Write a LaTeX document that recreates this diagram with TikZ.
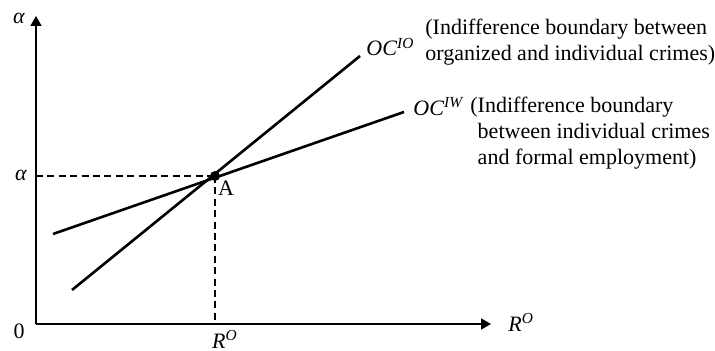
\documentclass[tikz,border=0pt]{standalone}
\usepackage{fontspec}
\setmainfont{Liberation Serif}
\usetikzlibrary{arrows.meta}
\newcommand{\sym}[2]{\textit{#1}\textsuperscript{\textit{#2}}}
\tikzset{
  axis/.style={line width=0.85pt, -{Triangle[length=5pt,width=5.5pt]}},
  bound/.style={line width=1.3pt},
  guide/.style={line width=0.65pt, dash pattern=on 3.5pt off 2.2pt},
  lbl/.style={font=\fontsize{11}{13}\selectfont, inner sep=0pt},
  note/.style={lbl, align=left, anchor=north west},
}

\begin{document}
\begin{tikzpicture}[x=0.5pt, y=-0.5pt]
    \useasboundingbox (0,0) rectangle (715,351);
    \coordinate (O) at (36, 324);
    \coordinate (ytip) at (36, 16);
    \coordinate (xtip) at (491, 324);
    \coordinate (A) at (215, 176);
    \coordinate (aleft) at (36, 176);
    \coordinate (abot) at (215, 324);
    \coordinate (io0) at (72, 290);
    \coordinate (io1) at (360, 56);
    \coordinate (iw0) at (53, 234);
    \coordinate (iw1) at (404, 112);
    % axes
    \draw[axis] (O) -- (ytip);
    \draw[axis] (O) -- (xtip);
    \node[lbl] (alpha) at (19, 18) {\textit{α}};
    \node[lbl] (zero) at (19, 331) {0};
    \node[lbl, anchor=west] (rlab) at (508, 322) {\sym{R}{O}};
    % guides to A
    \draw[guide] (aleft) -- (A);
    \draw[guide] (A) -- (abot);
    \node[lbl] (alphaA) at (21, 175) {\textit{α}};
    \node[lbl] (rA) at (225, 339) {\sym{R}{O}};
    % boundaries
    \draw[bound] (io0) -- (io1);
    \draw[bound] (iw0) -- (iw1);
    \fill (A) circle (2.5pt);
    \node[lbl] (Alab) at (226, 188) {A};
    \node[lbl, anchor=west] (ioname) at (366, 47) {\sym{OC}{IO}};
    \node[lbl, anchor=west] (iwname) at (413, 107) {\sym{OC}{IW}};
    \node[note] (ionote) at (425, 19) {(Indifference boundary between\\organized and individual crimes)};
    \node[note] (iwnote) at (470, 97) {(Indifference boundary\\\phantom{(}between individual crimes\\\phantom{(}and formal employment)};
\end{tikzpicture}
\end{document}
